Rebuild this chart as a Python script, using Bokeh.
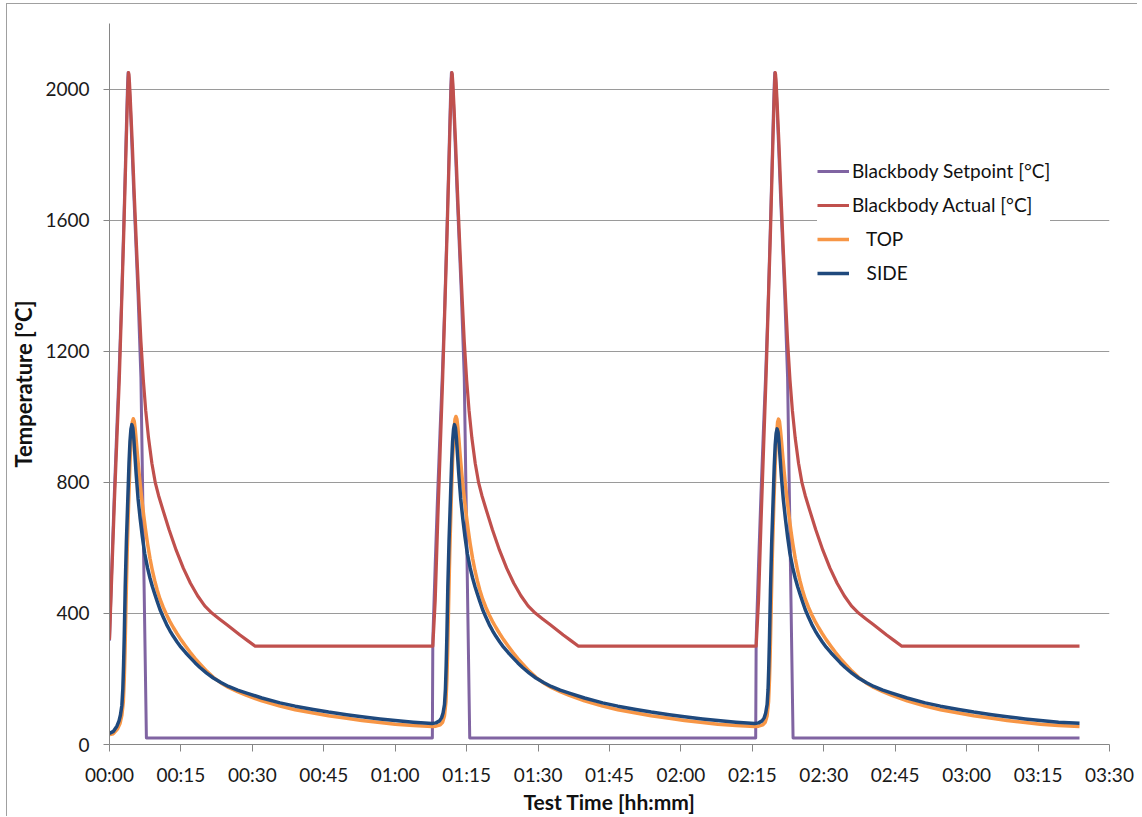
from bokeh.plotting import figure
from bokeh.models import Range1d, FixedTicker, Legend, LegendItem
from bokeh.embed import file_html
from bokeh.resources import INLINE

# ---------------- data (time in minutes, temperature in °C) ----------------
# Three repeated test cycles; times inside a cycle are read relative to the cycle start.
bb_cycle_starts = [0, 67.9, 135.8]        # blackbody setpoint / actual cycles
probe_cycle_starts = [0, 67.75, 135.5]    # TOP / SIDE probe cycles
end_time = 203.7

# Blackbody setpoint
setpoint_rel_t = [-0.1, 0, 0.5, 1.0, 1.5, 2.0, 2.5, 3.0, 3.3, 3.6,
                  3.78, 3.9, 4.0, 4.1, 4.4, 5.1, 6.0, 6.6, 7.75]
setpoint_c1 = [320, 320, 550, 760, 950, 1130, 1340, 1590, 1750, 1920,
               2010, 2050, 2048, 2030, 1940, 1680, 1370, 1120, 20]
setpoint_c2 = [20, 320, 550, 760, 950, 1130, 1340, 1590, 1750, 1920,
               2010, 2050, 2048, 2030, 1940, 1680, 1370, 1120, 20]
setpoint_c3 = [20, 320, 550, 760, 950, 1130, 1340, 1590, 1750, 1920,
               2010, 2050, 2048, 2030, 1940, 1680, 1370, 1120, 20]
setpoint_end = 20

# Blackbody actual
actual_rel_t = [0, 0.5, 1.05, 1.55, 2.06, 2.5, 3.0, 3.3, 3.6, 3.8,
                3.93, 4.0, 4.08, 4.2, 4.4, 4.8, 5.2, 5.7, 6.2, 6.6,
                7.1, 7.6, 8.2, 8.9, 9.6, 10.3, 11.0, 12.5, 14.0, 15.5,
                17.0, 18.5, 20.0, 21.5, 23.0, 24.6, 26.0, 27.4, 29.0, 30.6]
actual_c1 = [320, 525, 747, 930, 1113, 1320, 1560, 1720, 1880, 1980,
             2035, 2050, 2045, 2020, 1960, 1830, 1680, 1510, 1350, 1230,
             1113, 1020, 935, 858, 800, 760, 726, 656, 593, 538,
             492, 454, 423, 401, 384, 366, 350, 334, 317, 300]
actual_c2 = [300, 440, 690, 900, 1113, 1320, 1560, 1720, 1880, 1980,
             2035, 2050, 2045, 2020, 1960, 1830, 1680, 1510, 1350, 1230,
             1113, 1020, 935, 858, 800, 760, 726, 656, 593, 538,
             492, 454, 423, 401, 384, 366, 350, 334, 317, 300]
actual_c3 = [300, 440, 690, 900, 1113, 1320, 1560, 1720, 1880, 1980,
             2035, 2050, 2045, 2020, 1960, 1830, 1680, 1510, 1350, 1230,
             1113, 1020, 935, 858, 800, 760, 726, 656, 593, 538,
             492, 454, 423, 401, 384, 366, 350, 334, 317, 300]
actual_end = 300

# TOP probe
top_rel_t = [0, 0.8, 1.7, 2.2, 2.6, 2.9, 3.1, 3.25, 3.45, 3.7,
             4.0, 4.3, 4.6, 4.8, 5.0, 5.2, 5.4, 5.65, 5.9, 6.2,
             6.45, 6.8, 7.2, 7.6, 8.0, 8.5, 9.0, 9.5, 10.0, 10.6,
             11.3, 12.0, 12.7, 13.4, 14.2, 15.0, 16.0, 16.9, 18.0, 19.0,
             20.4, 21.8, 23.4, 25.0, 26.9, 28.8, 32.0, 35.8, 39.0, 42.8,
             46.0, 49.8, 53.0, 56.8, 60.0, 63.8]
top_c1 = [30, 33, 48, 64, 90, 130, 200, 280, 420, 580,
          730, 860, 950, 985, 994, 986, 962, 922, 878, 830,
          793, 746, 697, 652, 612, 568, 531, 500, 472, 444,
          418, 395, 375, 357, 338, 320, 300, 282, 262, 246,
          224, 205, 188, 174, 161, 150, 133, 117, 106, 96,
          88, 80, 73, 67, 62, 58]
top_c2 = [55, 56, 60, 68, 88, 130, 200, 280, 420, 585,
          740, 870, 958, 992, 1001, 993, 968, 926, 880, 831,
          793, 746, 697, 652, 612, 568, 531, 500, 472, 444,
          418, 395, 375, 357, 338, 320, 300, 282, 262, 246,
          224, 205, 188, 174, 161, 150, 133, 117, 106, 96,
          88, 80, 73, 67, 62, 58]
top_c3 = [55, 56, 60, 68, 88, 130, 200, 280, 420, 580,
          730, 858, 948, 984, 993, 985, 960, 920, 876, 829,
          793, 746, 697, 652, 612, 568, 531, 500, 472, 444,
          418, 395, 375, 357, 338, 320, 300, 282, 262, 246,
          224, 205, 188, 174, 161, 150, 133, 117, 106, 96,
          88, 80, 73, 67, 62, 58]
top_end = 55

# SIDE probe
side_rel_t = [0, 0.8, 1.55, 2.0, 2.3, 2.6, 2.8, 2.95, 3.1, 3.3,
              3.55, 3.85, 4.1, 4.3, 4.5, 4.7, 4.9, 5.1, 5.35, 5.6,
              6.0, 6.45, 6.9, 7.4, 8.0, 8.5, 9.0, 9.5, 10.0, 10.6,
              11.3, 12.0, 12.7, 13.4, 14.2, 15.0, 16.0, 16.9, 18.0, 19.0,
              20.4, 21.8, 23.4, 25.0, 26.9, 28.8, 32.0, 35.8, 39.0, 42.8,
              46.0, 49.8, 53.0, 56.8, 60.0, 63.8]
side_c1 = [34, 40, 56, 72, 90, 120, 170, 240, 330, 480,
           620, 750, 860, 925, 962, 976, 966, 935, 880, 825,
           750, 688, 634, 582, 538, 508, 482, 459, 437, 412,
           388, 366, 347, 330, 313, 297, 280, 266, 249, 235,
           218, 203, 189, 177, 166, 157, 142, 127, 117, 107,
           99, 91, 85, 78, 73, 68]
side_c2 = [64, 66, 72, 82, 96, 122, 170, 240, 330, 480,
           620, 750, 860, 925, 962, 976, 966, 935, 880, 825,
           750, 688, 634, 582, 538, 508, 482, 459, 437, 412,
           388, 366, 347, 330, 313, 297, 280, 266, 249, 235,
           218, 203, 189, 177, 166, 157, 142, 127, 117, 107,
           99, 91, 85, 78, 73, 68]
side_c3 = [64, 66, 72, 82, 96, 122, 168, 236, 325, 470,
           610, 740, 850, 915, 950, 963, 953, 922, 870, 817,
           748, 688, 634, 582, 538, 508, 482, 459, 437, 412,
           388, 366, 347, 330, 313, 297, 280, 266, 249, 235,
           218, 203, 189, 177, 166, 157, 142, 127, 117, 107,
           99, 91, 85, 78, 73, 68]
side_end = 65

x_ticks = [0, 15, 30, 45, 60, 75, 90, 105, 120, 135, 150, 165, 180, 195, 210]
x_tick_labels = ["00:00", "00:15", "00:30", "00:45", "01:00", "01:15", "01:30", "01:45",
                 "02:00", "02:15", "02:30", "02:45", "03:00", "03:15", "03:30"]
y_ticks = [0, 400, 800, 1200, 1600, 2000]

series_names = ["Blackbody Setpoint [°C]", "Blackbody Actual [°C]",
                "\u00a0\u00a0\u00a0TOP", "\u00a0\u00a0\u00a0SIDE"]
series_colors = ["#8064A2", "#C0504D", "#F79646", "#1F497D"]


def assemble(starts, rel_t, cycles, end_value):
    xs, ys = [], []
    for s, vals in zip(starts, cycles):
        xs += [s + r for r in rel_t]
        ys += list(vals)
    xs.append(end_time)
    ys.append(end_value)
    return xs, ys


sp_x, sp_y = assemble(bb_cycle_starts, setpoint_rel_t, [setpoint_c1, setpoint_c2, setpoint_c3], setpoint_end)
ac_x, ac_y = assemble(bb_cycle_starts, actual_rel_t, [actual_c1, actual_c2, actual_c3], actual_end)
tp_x, tp_y = assemble(probe_cycle_starts, top_rel_t, [top_c1, top_c2, top_c3], top_end)
sd_x, sd_y = assemble(probe_cycle_starts, side_rel_t, [side_c1, side_c2, side_c3], side_end)

# ---------------- figure ----------------
FONT = "Lato"
AXIS_GRAY = "#868686"

p = figure(frame_width=1000, frame_height=721, output_backend="svg", toolbar_location=None,
           x_range=Range1d(0, 210), y_range=Range1d(0, 2200),
           min_border_left=92, min_border_right=28, min_border_top=19, min_border_bottom=71,
           styles={"margin-left": "6px", "margin-top": "3px",
                   "border-left": "1px solid #a0a0a0", "border-top": "1px solid #a0a0a0"})
p.outline_line_color = None
p.background_fill_color = "white"
p.border_fill_color = "white"

p.xgrid.visible = False
p.ygrid.ticker = FixedTicker(ticks=y_ticks)
p.ygrid.grid_line_color = "#9a9a9a"
p.ygrid.grid_line_width = 1

for ax in (p.xaxis[0], p.yaxis[0]):
    ax.axis_line_color = AXIS_GRAY
    ax.major_tick_line_color = AXIS_GRAY
    ax.minor_tick_line_color = None
    ax.major_tick_in = 0
    ax.major_label_text_font = FONT
    ax.major_label_text_font_size = "19px"
    ax.major_label_text_color = "#1a1a1a"
    ax.axis_label_text_font = FONT
    ax.axis_label_text_font_style = "bold"
    ax.axis_label_text_color = "#111111"

xa = p.xaxis[0]
xa.ticker = FixedTicker(ticks=x_ticks)
xa.major_label_overrides = {t: lbl for t, lbl in zip(x_ticks, x_tick_labels)}
xa.major_tick_out = 7
xa.major_label_standoff = 11
xa.axis_label = "Test Time [hh:mm]"
xa.axis_label_text_font_size = "21px"
xa.axis_label_standoff = 0

ya = p.yaxis[0]
ya.ticker = FixedTicker(ticks=y_ticks)
ya.major_tick_out = 6
ya.major_label_standoff = 14
ya.axis_label = "Temperature [°C]"
ya.axis_label_text_font_size = "22px"
ya.axis_label_standoff = 5

renderers = []
for (xs, ys), col, lw in zip([(sp_x, sp_y), (ac_x, ac_y), (tp_x, tp_y), (sd_x, sd_y)],
                             series_colors, [3, 3.2, 3.5, 3.5]):
    renderers.append(p.line(xs, ys, line_color=col, line_width=lw, line_join="round"))

legend = Legend(items=[LegendItem(label=n, renderers=[r]) for n, r in zip(series_names, renderers)],
                location=(708, 460))
legend.background_fill_color = "white"
legend.background_fill_alpha = 1
legend.border_line_color = None
legend.padding = 0
legend.margin = 0
legend.spacing = 11
legend.glyph_width = 32
legend.glyph_height = 20
legend.label_height = 20
legend.label_standoff = 3
legend.label_text_font = FONT
legend.label_text_font_size = "19px"
legend.label_text_color = "#111111"
p.add_layout(legend)

open("out.html", "w").write(file_html(p, INLINE))
